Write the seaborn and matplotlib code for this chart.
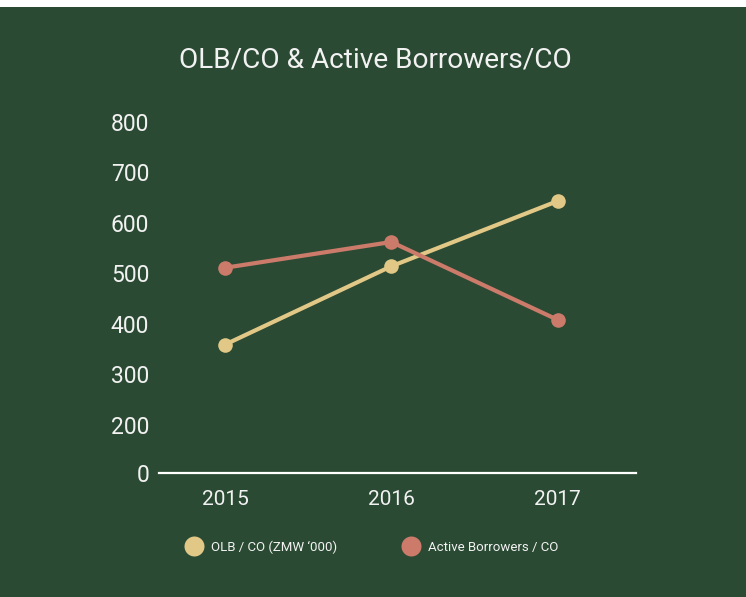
import matplotlib
matplotlib.use("Agg")
import matplotlib.pyplot as plt
import seaborn as sns
import pandas as pd
from matplotlib.lines import Line2D

years = [2015, 2016, 2017]
olb_per_co = [359, 514, 643]
borrowers_per_co = [511, 562, 408]
series_names = ["OLB / CO (ZMW \u2018000)", "Active Borrowers / CO"]
ytick_pos = [105, 200, 300, 400, 500, 600, 700, 800]
ytick_labels = ["0", "200", "300", "400", "500", "600", "700", "800"]
title = "OLB/CO & Active Borrowers/CO"

BG = "#2b4a33"
COLORS = ["#e2c886", "#cc7b6b"]
TXT = "#f2f2f2"

sns.set_theme(style="white")
plt.rcParams["font.family"] = ["Roboto", "DejaVu Sans"]

df = pd.DataFrame({
    "year": years * 2,
    "value": olb_per_co + borrowers_per_co,
    "series": [series_names[0]] * 3 + [series_names[1]] * 3,
})

fig = plt.figure(figsize=(7.46, 5.97), dpi=100)
fig.patch.set_facecolor("white")
fig.patches.append(plt.Rectangle((0, 0), 1, 1 - 7 / 597, transform=fig.transFigure,
                                 facecolor=BG, edgecolor="none", zorder=-10))

ax = fig.add_axes([159 / 746, (597 - 473) / 597, 477 / 746, (473 - 114.1) / 597])
ax.set_facecolor(BG)
ax.patch.set_alpha(0)

sns.lineplot(data=df, x="year", y="value", hue="series", palette=COLORS,
             marker="o", markersize=10.5, markeredgewidth=0, linewidth=3,
             ax=ax, legend=False)

ax.set_xlim(2015 - 0.397, 2015 + 2.471)
ax.set_ylim(105, 815)
ax.set_xticks(years)
ax.set_xticklabels([str(y) for y in years])
ax.set_yticks(ytick_pos)
ax.set_yticklabels(ytick_labels)
ax.tick_params(axis="both", length=0, colors=TXT)
ax.tick_params(axis="x", pad=12, labelsize=15)
ax.tick_params(axis="y", pad=7, labelsize=16.5)
ax.set_xlabel("")
ax.set_ylabel("")
for s in ["top", "left", "right"]:
    ax.spines[s].set_visible(False)
ax.spines["bottom"].set_color("white")
ax.spines["bottom"].set_linewidth(1.6)

fig.text(375 / 746, 1 - 60 / 597, title, ha="center", va="center",
         color=TXT, fontsize=20.2)

handles = [Line2D([], [], marker="o", linestyle="none", markersize=14.4,
                  markerfacecolor=c, markeredgewidth=0) for c in COLORS]
fig.legend(handles, series_names, loc="center", ncol=2, frameon=False,
           bbox_to_anchor=(373 / 746, 1 - 547 / 597), fontsize=9.5,
           labelcolor=TXT, handletextpad=0.79, columnspacing=5.1,
           handlelength=1.0, borderpad=0, borderaxespad=0)

fig.savefig("out.png", dpi=100, facecolor=fig.get_facecolor())
